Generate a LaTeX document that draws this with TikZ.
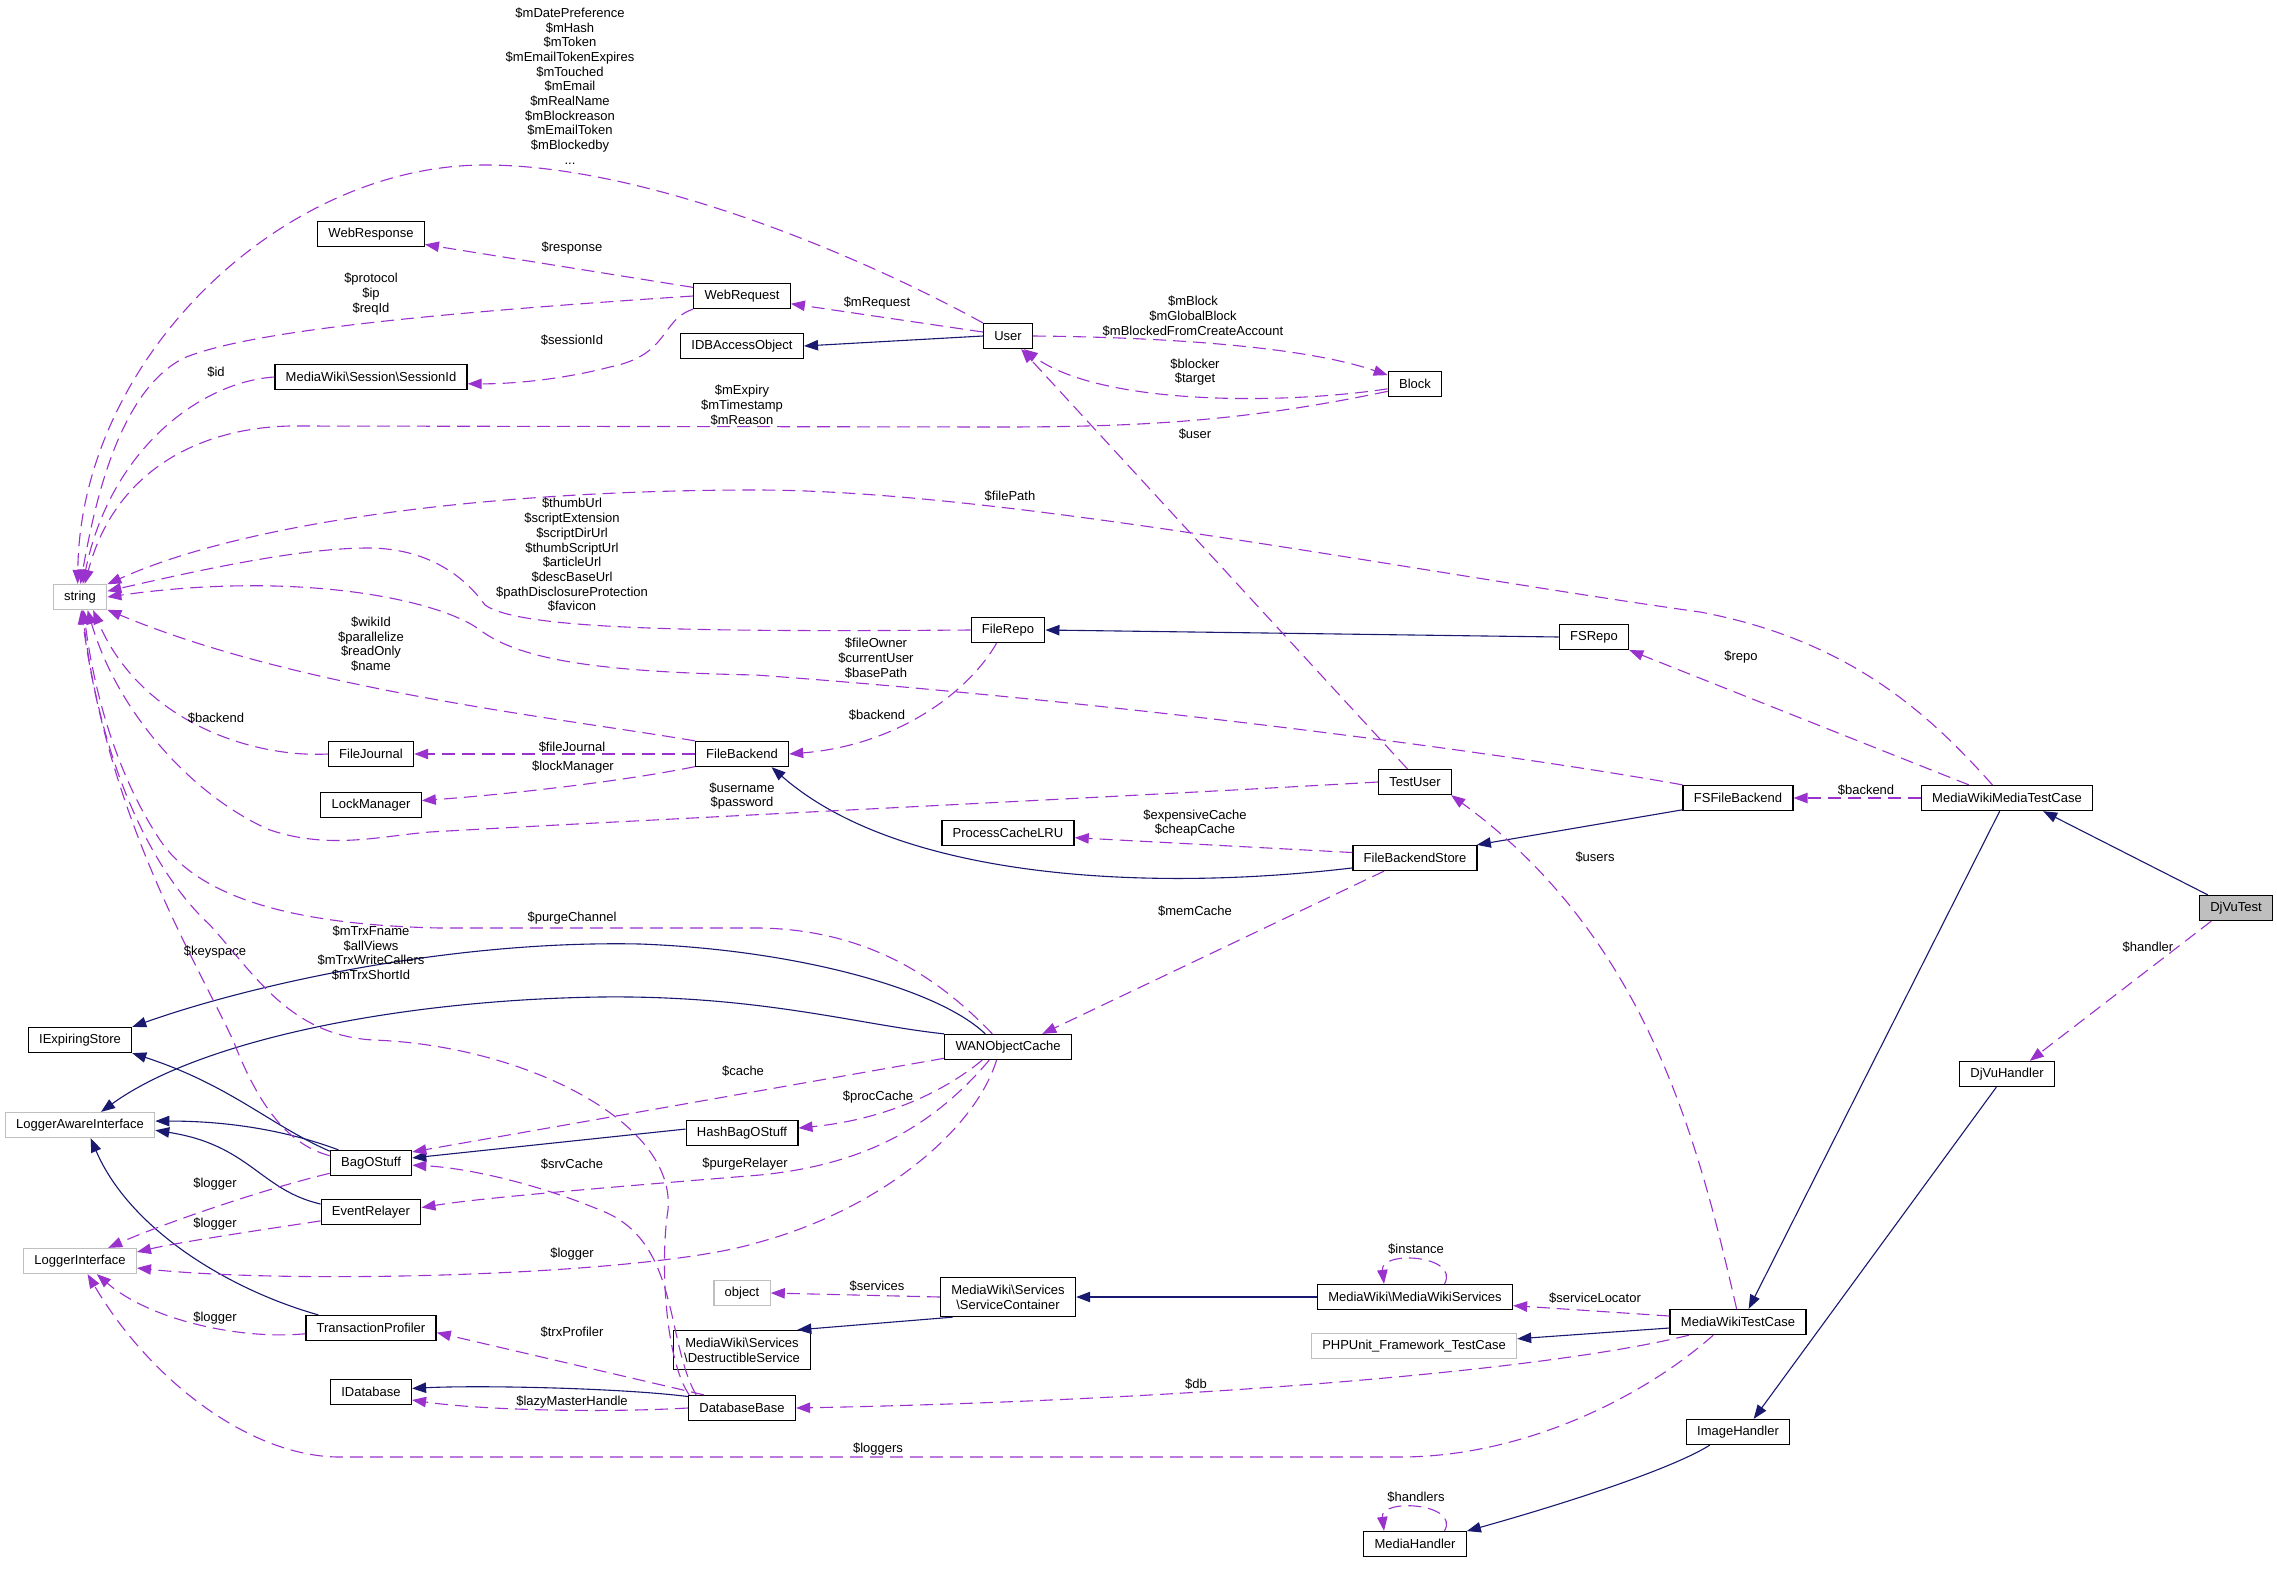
\documentclass[tikz,border=0pt]{standalone}
\usepackage{fontspec}
\newfontfamily\dxfont{Liberation Sans}
\usetikzlibrary{arrows.meta, positioning}
\usepackage{xcolor}
\definecolor{usecol}{HTML}{9A32CD}
\definecolor{inhcol}{HTML}{191970}
\definecolor{extgray}{HTML}{BFBFBF}
\newcommand{\dxsize}{\dxfont\fontsize{6.5pt}{7.35pt}\selectfont}

\begin{document}
\begin{tikzpicture}[x=0.5pt, y=-0.5pt]

    \tikzstyle{cls} = [rectangle, draw=black, line width=0.65pt, fill=white, minimum height=12.5pt, inner xsep=5.4pt, inner ysep=1pt, font=\dxsize, align=center]
    \tikzstyle{extcls} = [cls, draw=extgray]
    \tikzstyle{curcls} = [cls, fill=extgray]
    \tikzstyle{twoline} = [cls, minimum height=19.5pt]
    \tikzstyle{usage} = [draw=usecol, line width=0.55pt, dash pattern=on 6.5pt off 3.5pt, -{Triangle[length=7pt, width=5.2pt]}]
    \tikzstyle{inherit} = [draw=inhcol, line width=0.55pt, -{Triangle[length=7pt, width=5.2pt]}]
    \tikzstyle{lbl} = [font=\dxsize, align=center, inner sep=0pt]

    \path[use as bounding box, fill=white] (0,0) rectangle (2277,1575);

    % classes
    \node (string) [extcls] at (80,597) {string};
    \node (webresponse) [cls] at (371,234) {WebResponse};
    \node (webrequest) [cls] at (742,296) {WebRequest};
    \node (idbaccess) [cls] at (742,346) {IDBAccessObject};
    \node (sessionid) [cls] at (371,377) {MediaWiki\textbackslash{}Session\textbackslash{}SessionId};
    \node (user) [cls] at (1008,336) {User};
    \node (block) [cls] at (1415,384) {Block};
    \node (filerepo) [cls] at (1008,630) {FileRepo};
    \node (fsrepo) [cls] at (1594,637) {FSRepo};
    \node (filebackend) [cls] at (742,754) {FileBackend};
    \node (filejournal) [cls] at (371,754) {FileJournal};
    \node (lockmanager) [cls] at (371,805) {LockManager};
    \node (testuser) [cls] at (1415,782) {TestUser};
    \node (processcache) [cls] at (1008,833) {ProcessCacheLRU};
    \node (backendstore) [cls] at (1415,858) {FileBackendStore};
    \node (fsbackend) [cls] at (1738,798) {FSFileBackend};
    \node (mwmediatest) [cls] at (2007,798) {MediaWikiMediaTestCase};
    \node (djvutest) [curcls] at (2236,908) {DjVuTest};
    \node (wancache) [cls] at (1008,1047) {WANObjectCache};
    \node (iexpiring) [cls] at (80,1040) {IExpiringStore};
    \node (loggeraware) [extcls] at (80,1125) {LoggerAwareInterface};
    \node (bagostuff) [cls] at (371,1163) {BagOStuff};
    \node (hashbag) [cls] at (742,1133) {HashBagOStuff};
    \node (eventrelayer) [cls] at (371,1212) {EventRelayer};
    \node (loggeriface) [extcls] at (80,1261) {LoggerInterface};
    \node (object) [extcls] at (742,1293) {object};
    \node (txprofiler) [cls] at (371,1328) {TransactionProfiler};
    \node (destructible) [twoline] at (742,1350) {MediaWiki\textbackslash{}Services\\\textbackslash{}DestructibleService};
    \node (idatabase) [cls] at (371,1392) {IDatabase};
    \node (dbbase) [cls] at (742,1408) {DatabaseBase};
    \node (servicecontainer) [twoline] at (1008,1297) {MediaWiki\textbackslash{}Services\\\textbackslash{}ServiceContainer};
    \node (mwservices) [cls] at (1415,1297) {MediaWiki\textbackslash{}MediaWikiServices};
    \node (phpunit) [extcls] at (1414,1346) {PHPUnit\_Framework\_TestCase};
    \node (mwtestcase) [cls] at (1738,1322) {MediaWikiTestCase};
    \node (djvuhandler) [cls] at (2007,1074) {DjVuHandler};
    \node (imagehandler) [cls] at (1738,1432) {ImageHandler};
    \node (mediahandler) [cls] at (1415,1544) {MediaHandler};

    % inheritance
    \draw[inherit] (user.west) -- (idbaccess.east);
    \draw[inherit] (fsrepo.west) -- (filerepo.east);
    \draw[inherit] (backendstore.-171) .. controls (1150,892) and (900,880) .. (filebackend.-24);
    \draw[inherit] (fsbackend.-168) -- (backendstore.12);
    \draw[inherit] (mwmediatest.-119) -- (mwtestcase.51);
    \draw[inherit] (djvutest.155) -- (mwmediatest.-20);
    \draw[inherit] (djvuhandler.-129) -- (imagehandler.40);
    \draw[inherit] (imagehandler.-155) .. controls (1670,1470) and (1560,1505) .. (mediahandler.14);
    \draw[inherit] (mwtestcase.-175) -- (phpunit.4);
    \draw[inherit] (mwservices.west) -- (servicecontainer.east);
    \draw[inherit] (servicecontainer.-160) -- (destructible.20);
    \draw[inherit] (dbbase.168) .. controls (620,1388) and (480,1385) .. (idatabase.5);
    \draw[inherit] (wancache.150) .. controls (940,990) and (800,950) .. (640,944) .. controls (450,940) and (250,985) .. (iexpiring.north east);
    \draw[inherit] (wancache.north west) .. controls (860,1025) and (760,995) .. (600,997) .. controls (400,1000) and (200,1040) .. (loggeraware.32);
    \draw[inherit] (bagostuff.164) .. controls (270,1125) and (230,1085) .. (iexpiring.south east);
    \draw[inherit] (bagostuff.158) .. controls (280,1128) and (220,1121) .. (loggeraware.3);
    \draw[inherit] (eventrelayer.171) .. controls (260,1190) and (250,1145) .. (loggeraware.-4);
    \draw[inherit] (txprofiler.166) .. controls (230,1290) and (130,1230) .. (loggeraware.-51);
    \draw[inherit] (hashbag.176) -- (bagostuff.7);

    % members
    \draw[usage] (user.north west) .. controls (850,250) and (640,165) .. (485,165) .. controls (280,165) and (80,360) .. (string.100)
        node[lbl] at (570,86) {\$mDatePreference\\\$mHash\\\$mToken\\\$mEmailTokenExpires\\\$mTouched\\\$mEmail\\\$mRealName\\\$mBlockreason\\\$mEmailToken\\\$mBlockedby\\...};
    \draw[usage] (webrequest.170) -- (webresponse.-11) node[lbl] at (572,248) {\$response};
    \draw[usage] (webrequest.west) .. controls (450,312) and (250,330) .. (184,358) .. controls (120,390) and (95,500) .. (string.88)
        node[lbl] at (371,294) {\$protocol\\\$ip\\\$reqId};
    \draw[usage] (webrequest.south west) .. controls (660,320) and (670,355) .. (610,367) .. controls (560,380) and (510,384) .. (sessionid.-4)
        node[lbl] at (572,340) {\$sessionId};
    \draw[usage] (sessionid.west) .. controls (200,382) and (110,450) .. (string.78) node[lbl] at (216,372) {\$id};
    \draw[usage] (user.171) -- (webrequest.-9) node[lbl] at (877,303) {\$mRequest};
    \draw[usage] (user.east) .. controls (1150,337) and (1300,345) .. (block.162)
        node[lbl] at (1193,316) {\$mBlock\\\$mGlobalBlock\\\$mBlockedFromCreateAccount};
    \draw[usage] (block.190) .. controls (1280,405) and (1100,405) .. (user.-40) node[lbl] at (1195,372) {\$blocker\\\$target};
    \draw[usage] (block.195) .. controls (1250,420) and (1150,427) .. (1000,427) -- (290,426) .. controls (200,428) and (115,470) .. (string.70)
        node[lbl] at (742,405) {\$mExpiry\\\$mTimestamp\\\$mReason};
    \draw[usage] (testuser.120) -- (user.-45) node[lbl] at (1195,434) {\$user};
    \draw[usage] (mwmediatest.138) .. controls (1930,715) and (1850,640) .. (1700,612) .. controls (1400,570) and (1000,490) .. (756,490) .. controls (500,490) and (250,520) .. (string.25)
        node[lbl] at (1010,496) {\$filePath};
    \draw[usage] (filerepo.west) .. controls (700,632) and (520,630) .. (485,605) .. controls (460,570) and (420,548) .. (368,548) .. controls (300,548) and (200,570) .. (string.12)
        node[lbl] at (572,555) {\$thumbUrl\\\$scriptExtension\\\$scriptDirUrl\\\$thumbScriptUrl\\\$articleUrl\\\$descBaseUrl\\\$pathDisclosureProtection\\\$favicon};
    \draw[usage] (fsbackend.north west) .. controls (1500,752) and (1100,700) .. (756,675) .. controls (600,672) and (520,660) .. (480,630) .. controls (440,600) and (300,570) .. (string.0)
        node[lbl] at (876,658) {\$fileOwner\\\$currentUser\\\$basePath};
    \draw[usage] (filebackend.north west) .. controls (560,718) and (300,690) .. (string.-25)
        node[lbl] at (371,644) {\$wikiId\\\$parallelize\\\$readOnly\\\$name};
    \draw[usage] (filerepo.-131) .. controls (970,690) and (900,745) .. (filebackend.east) node[lbl] at (877,715) {\$backend};
    \draw[usage] (filebackend.west) -- (filejournal.east) node[lbl] at (572,747) {\$fileJournal};
    \draw[usage] (filejournal.west) .. controls (250,758) and (140,720) .. (string.-45) node[lbl] at (216,718) {\$backend};
    \draw[usage] (filebackend.195) .. controls (620,782) and (500,795) .. (lockmanager.5) node[lbl] at (573,767) {\$lockManager};
    \draw[usage] (testuser.west) .. controls (1100,798) and (600,822) .. (430,832) .. controls (380,836) and (330,850) .. (270,830) .. controls (200,800) and (120,720) .. (string.-60)
        node[lbl] at (742,796) {\$username\\\$password};
    \draw[usage] (backendstore.175) -- (processcache.-4) node[lbl] at (1195,823) {\$expensiveCache\\\$cheapCache};
    \draw[usage] (backendstore.-157) -- (wancache.21) node[lbl] at (1195,911) {\$memCache};
    \draw[usage] (wancache.140) .. controls (950,990) and (880,930) .. (760,928) -- (440,928) .. controls (300,925) and (200,900) .. (160,840) .. controls (120,780) and (95,700) .. (string.-75)
        node[lbl] at (572,918) {\$purgeChannel};
    \draw[usage] (bagostuff.170) .. controls (290,1145) and (260,1110) .. (233,1040) .. controls (190,950) and (110,820) .. (string.-85)
        node[lbl] at (215,952) {\$keyspace};
    \draw[usage] (dbbase.166) .. controls (665,1360) and (660,1260) .. (668,1210) .. controls (676,1120) and (520,1045) .. (373,1040) .. controls (290,1035) and (255,975) .. (210,925) .. controls (150,870) and (100,760) .. (string.-80)
        node[lbl] at (371,953) {\$mTrxFname\\\$allViews\\\$mTrxWriteCallers\\\$mTrxShortId};
    \draw[usage] (wancache.-170) -- (bagostuff.15) node[lbl] at (743,1071) {\$cache};
    \draw[usage] (wancache.-153) .. controls (940,1095) and (880,1120) .. (hashbag.5) node[lbl] at (878,1097) {\$procCache};
    \draw[usage] (wancache.-145) .. controls (930,1130) and (860,1165) .. (760,1175) .. controls (600,1188) and (480,1198) .. (eventrelayer.5)
        node[lbl] at (745,1164) {\$purgeRelayer};
    \draw[usage] (wancache.-131) .. controls (975,1130) and (880,1210) .. (756,1243) .. controls (650,1275) and (300,1285) .. (loggeriface.-7)
        node[lbl] at (572,1254) {\$logger};
    \draw[usage] (bagostuff.-166) .. controls (260,1190) and (160,1225) .. (loggeriface.25) node[lbl] at (215,1184) {\$logger};
    \draw[usage] (eventrelayer.-170) .. controls (260,1230) and (180,1242) .. (loggeriface.9) node[lbl] at (215,1224) {\$logger};
    \draw[usage] (txprofiler.-175) .. controls (240,1340) and (150,1320) .. (loggeriface.-38) node[lbl] at (215,1318) {\$logger};
    \draw[usage] (dbbase.161) -- (txprofiler.-4) node[lbl] at (572,1332) {\$trxProfiler};
    \draw[usage] (dbbase.west) .. controls (600,1413) and (480,1410) .. (idatabase.-11) node[lbl] at (572,1402) {\$lazyMasterHandle};
    \draw[usage] (dbbase.164) .. controls (665,1340) and (680,1240) .. (600,1210) .. controls (540,1185) and (470,1168) .. (bagostuff.-3)
        node[lbl] at (572,1164) {\$srvCache};
    \draw[usage] (mwtestcase.-152) .. controls (1640,1400) and (1520,1457) .. (1400,1457) -- (340,1457) .. controls (250,1457) and (150,1380) .. (loggeriface.-60)
        node[lbl] at (878,1449) {\$loggers};
    \draw[usage] (servicecontainer.west) -- (object.east) node[lbl] at (877,1286) {\$services};
    \draw[usage] (mwservices.24) .. controls (1460,1255) and (1380,1250) .. (mwservices.157) node[lbl] at (1416,1249) {\$instance};
    \draw[usage] (mwtestcase.175) -- (mwservices.-5) node[lbl] at (1595,1298) {\$serviceLocator};
    \draw[usage] (mwtestcase.-165) .. controls (1550,1370) and (1200,1400) .. (dbbase.east) node[lbl] at (1196,1384) {\$db};
    \draw[usage] (mwtestcase.96) .. controls (1700,1150) and (1650,940) .. (testuser.-20) node[lbl] at (1595,857) {\$users};
    \draw[usage] (mediahandler.24) .. controls (1460,1503) and (1380,1498) .. (mediahandler.157) node[lbl] at (1416,1497) {\$handlers};
    \draw[usage] (mwmediatest.161) -- (fsrepo.south east) node[lbl] at (1741,657) {\$repo};
    \draw[usage] (mwmediatest.west) -- (fsbackend.east) node[lbl] at (1866,790) {\$backend};
    \draw[usage] (djvutest.-152) -- (djvuhandler.30) node[lbl] at (2148,947) {\$handler};

\end{tikzpicture}
\end{document}
